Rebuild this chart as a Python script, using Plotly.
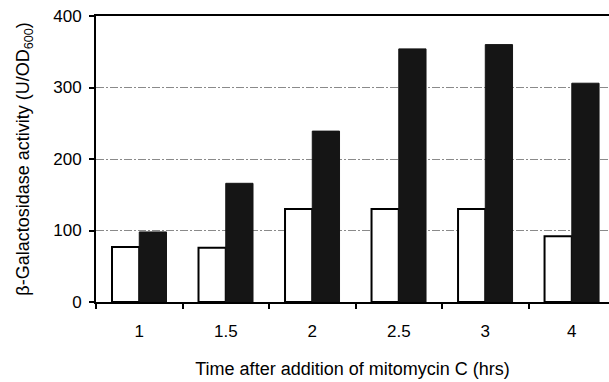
import plotly.graph_objects as go

categories = ["1", "1.5", "2", "2.5", "3", "4"]
control = [77, 76, 130, 130, 130, 92]
mitomycin = [98, 166, 239, 354, 360, 306]
y_ticks = [0, 100, 200, 300, 400]

font_family = "Liberation Sans, Arial, sans-serif"

fig = go.Figure()
fig.add_trace(go.Bar(x=categories, y=control, marker=dict(color="white", line=dict(color="black", width=2)), showlegend=False))
fig.add_trace(go.Bar(x=categories, y=mitomycin, marker=dict(color="#151515", line=dict(color="#151515", width=1)), showlegend=False))

fig.update_layout(
    width=609, height=382,
    margin=dict(l=96, r=0, t=16, b=80),
    paper_bgcolor="white", plot_bgcolor="white",
    barmode="group", bargap=0.37, bargroupgap=0.0,
    font=dict(family=font_family, color="black", size=17),
)
fig.update_xaxes(
    type="category", range=[-0.5, 5.43],
    showline=True, linecolor="black", linewidth=2, mirror=True,
    ticks="outside", tickson="boundaries", ticklen=5, tickwidth=2, tickcolor="black",
    ticklabelstandoff=13,
    showgrid=False, zeroline=False,
    title=dict(text="Time after addition of mitomycin C (hrs)", font=dict(size=18), standoff=22),
)
fig.update_yaxes(
    range=[0, 400], tickvals=y_ticks,
    showline=True, linecolor="black", linewidth=2,
    ticks="outside", ticklen=5, tickwidth=2, tickcolor="black",
    ticklabelstandoff=4,
    showgrid=True, gridcolor="#8a8a8a", gridwidth=1, griddash="8px,2px,2px,2px",
    zeroline=False,
    title=dict(text="β-Galactosidase activity (U/OD<sub>600</sub>)", font=dict(size=18), standoff=19),
)
fig.write_html("out.html")
